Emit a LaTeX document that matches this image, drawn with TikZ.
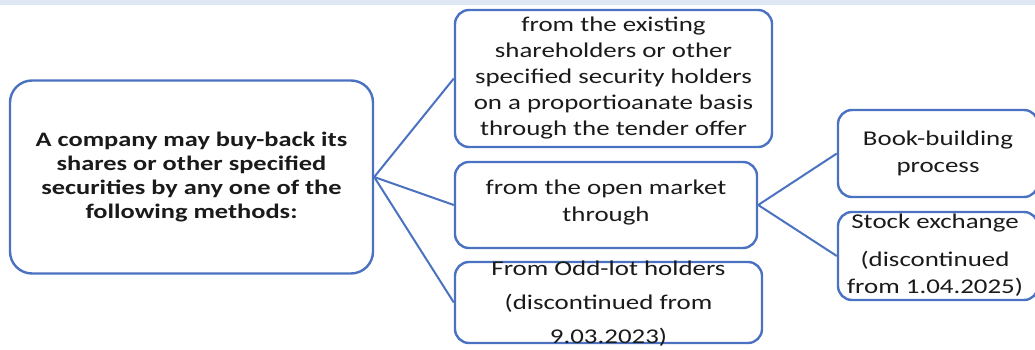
\documentclass[tikz,border=0pt]{standalone}
\usepackage{fontspec}
\setmainfont{Carlito}[FakeStretch=1.28]
\usepackage{xcolor}
\usetikzlibrary{positioning,calc}
\definecolor{boxblue}{HTML}{4A72C0}
\definecolor{stripblue}{HTML}{DDE6F2}
\definecolor{txtgray}{HTML}{1A1A1A}

\begin{document}
\begin{tikzpicture}[x=1pt,y=-1pt,
    box/.style={draw=boxblue,line width=2.4pt,rounded corners=14pt,inner sep=0pt},
    txt/.style={align=center,text=txtgray,inner sep=0pt,font=\fontsize{21}{26}\selectfont},
    link/.style={draw=boxblue,line width=2pt}]
    \useasboundingbox (0,0) rectangle (1035,350);
    \fill[stripblue] (0,0) rectangle (1035,5);

    % Main statement
    \node[box,rounded corners=22pt,minimum width=363pt,minimum height=193pt] (main) at (191.5,177) {};
    \node[txt,font=\bfseries\fontsize{20.6}{24}\selectfont] (maintxt) at (main) {A company may buy-back its\\shares or other specified\\securities by any one of the\\following methods:};

    % Methods
    \node[box,minimum width=317pt,minimum height=137pt] (tender) at (613.5,78.5) {};
    \node[txt] (tendertxt) at (tender) {from the existing\\shareholders or other\\specified security holders\\on a proportioanate basis\\through the tender offer};

    \node[box,minimum width=302pt,minimum height=86pt] (open) at (606,205) {};
    \node[txt,font=\fontsize{21}{27}\selectfont] (opentxt) at ($(open)+(0,-2)$) {from the open market\\through};

    \node[box,minimum width=307pt,minimum height=81pt] (oddlot) at (608.5,302.5) {};
    \node[txt,font=\fontsize{21}{34}\selectfont] (oddlottxt) at ($(oddlot)+(0,1)$) {From Odd-lot holders\\(discontinued from\\9.03.2023)};

    % Open market routes
    \node[box,minimum width=200pt,minimum height=87pt] (book) at (938,153.5) {};
    \node[txt,font=\fontsize{21}{27}\selectfont] (booktxt) at (book) {Book-building\\process};

    \node[box,minimum width=200pt,minimum height=88pt] (stock) at (938,256) {};
    \node[txt,font=\fontsize{21}{27}\selectfont] (stocktxt) at ($(stock)+(-3,-1)$) {Stock exchange\\[11pt](discontinued\\from 1.04.2025)};

    % Links
    \draw[link] (main.east) -- (tender.west);
    \draw[link] (main.east) -- (open.west);
    \draw[link] (main.east) -- (oddlot.west);
    \draw[link] (open.east) -- (book.west);
    \draw[link] (open.east) -- (stock.west);
\end{tikzpicture}
\end{document}
